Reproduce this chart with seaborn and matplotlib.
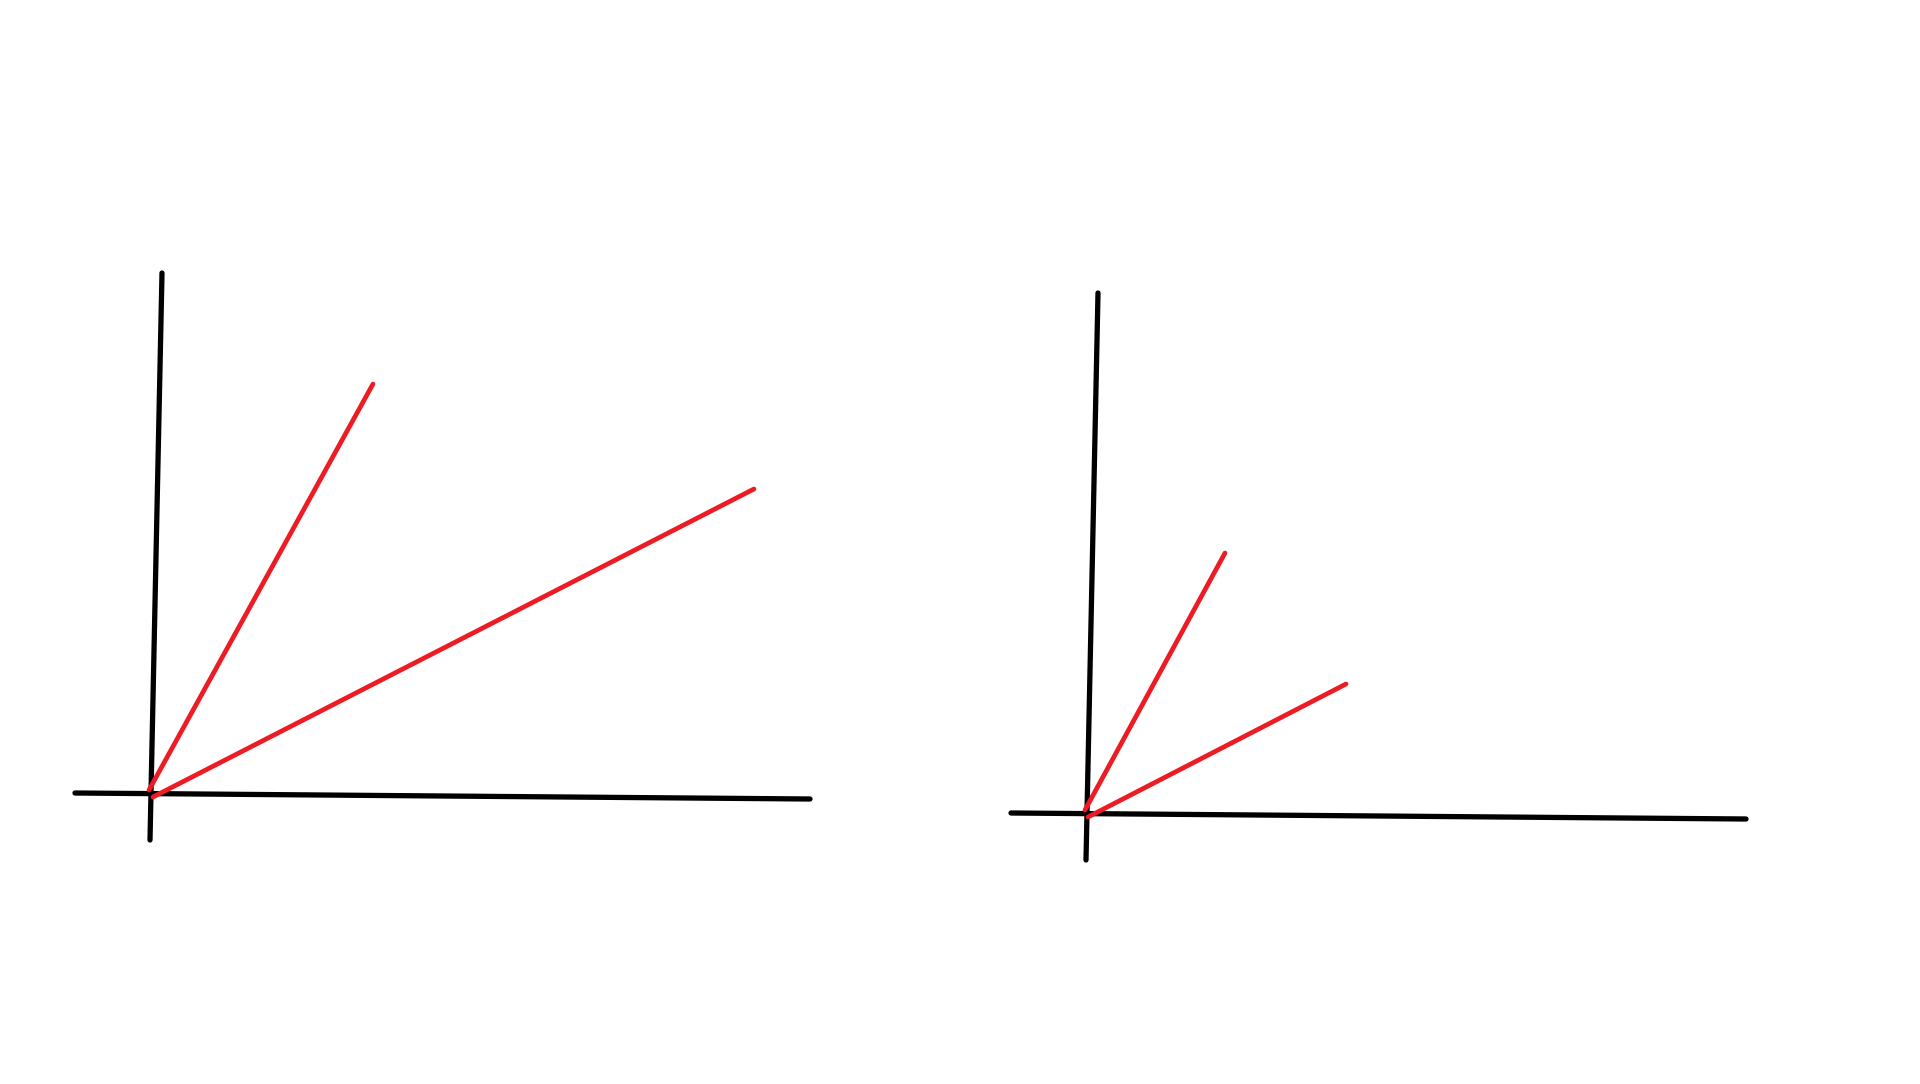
import matplotlib
matplotlib.use("Agg")
import matplotlib.pyplot as plt
import seaborn as sns
import pandas as pd

# Sketch strokes (canvas pixel coordinates, y grows downward)
stroke_ids = ["L_xaxis", "L_yaxis", "L_red1", "L_red2",
              "R_xaxis", "R_yaxis", "R_red1", "R_red2"]
stroke_colors = ["black", "black", "red", "red",
                 "black", "black", "red", "red"]
stroke_x = [
    [75, 810],
    [162, 150],
    [149, 373],
    [153, 754],
    [1011, 1746],
    [1098, 1086],
    [1085, 1225],
    [1088, 1346],
]
stroke_y = [
    [793, 799],
    [273, 840],
    [790, 384],
    [797, 489],
    [813, 819],
    [293, 860],
    [810, 553],
    [817, 684],
]

palette = {"black": "#000000", "red": "#ED1C24"}
widths = {"black": 3.8, "red": 3.4}

rows = []
for sid, col, xs, ys in zip(stroke_ids, stroke_colors, stroke_x, stroke_y):
    for i, (x, y) in enumerate(zip(xs, ys)):
        rows.append({"stroke": sid, "color": col, "x": x, "y": y, "order": i})
df = pd.DataFrame(rows)

sns.set_theme(style="white")
fig = plt.figure(figsize=(19.2, 10.84), dpi=100)
ax = fig.add_axes([0, 0, 1, 1])

for sid in stroke_ids:
    sub = df[df["stroke"] == sid]
    cname = sub["color"].iloc[0]
    sns.lineplot(data=sub, x="x", y="y", sort=False, estimator=None,
                 color=palette[cname], lw=widths[cname], ax=ax, legend=False,
                 solid_capstyle="round")

ax.set_xlim(0, 1920)
ax.set_ylim(1084, 0)
ax.set_axis_off()
fig.patch.set_facecolor("white")
fig.savefig("out.png", dpi=100, facecolor="white")
